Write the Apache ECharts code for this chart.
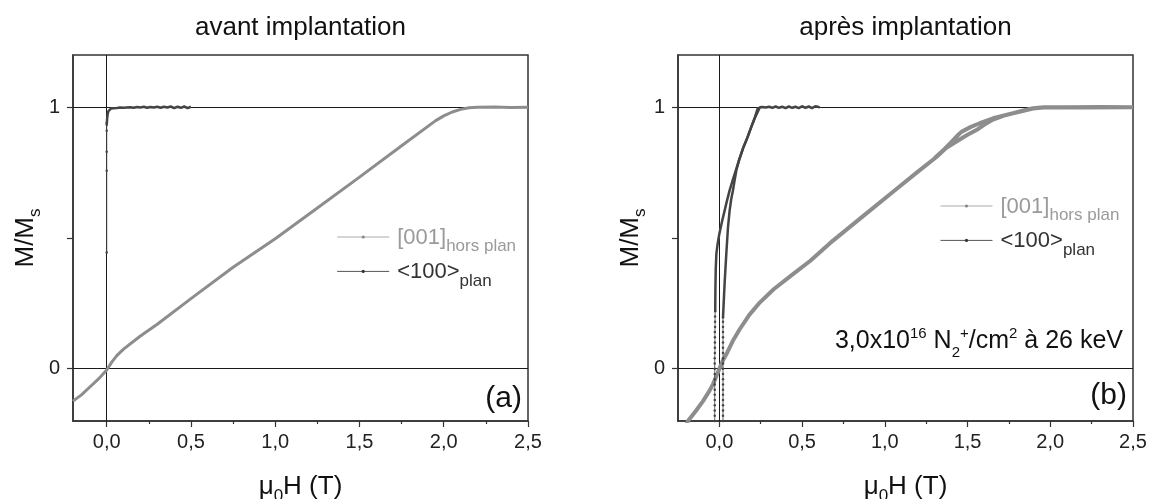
<!DOCTYPE html>
<html><head><meta charset="utf-8">
<script src="https://cdn.jsdelivr.net/npm/echarts@6/dist/echarts.min.js"></script>
<style>html,body{margin:0;padding:0;background:#fff}#c{width:1150px;height:499px}</style>
</head><body><div id="c"></div>
<script>
// ---- tick positions ----
const xTicks = [0, 0.5, 1, 1.5, 2, 2.5];
const xMinorTicks = [0.25, 0.75, 1.25, 1.75, 2.25];
const yTicks = [0, 0.5, 1];
const yTickLabels = [0, 1];

// ---- (a) avant implantation ----
const leftHorsPlan = [[-0.2,-0.124],[-0.15,-0.1],[-0.1,-0.07],[-0.05,-0.04],[0,-0.005],[0.03,0.025],[0.06,0.05],[0.1,0.075],[0.2,0.125],[0.3,0.17],[0.5,0.268],[0.75,0.388],[1.0,0.497],[1.25,0.615],[1.5,0.733],[1.75,0.853],[1.95,0.948],[2.0,0.967],[2.05,0.982],[2.1,0.992],[2.15,0.998],[2.2,1.0],[2.3,1.001],[2.4,0.999],[2.5,1.0]];
const leftPlan = [[0.5,1.002],[0.48,0.997],[0.46,1.003],[0.44,0.998],[0.42,1.002],[0.40,0.997],[0.38,1.003],[0.36,0.999],[0.34,1.002],[0.32,0.998],[0.30,1.002],[0.28,0.999],[0.26,1.001],[0.24,0.998],[0.22,1.002],[0.20,0.999],[0.18,1.001],[0.16,0.998],[0.14,1.0],[0.12,0.999],[0.10,0.998],[0.08,0.999],[0.06,0.997],[0.04,0.996],[0.025,0.995],[0.015,0.992],[0.01,0.985],[0.006,0.975],[0.003,0.96],[0.001,0.94],[0,0.93]];
const leftPlanDots = [[0,0.94],[0,0.91],[0,0.83],[0,0.757],[0,0.445]];

// ---- (b) après implantation ----
const rightHorsPlan = [[-0.22,-0.24],[-0.19,-0.2],[-0.14,-0.16],[-0.099,-0.124],[-0.06,-0.085],[-0.039,-0.06],[-0.02,-0.032],[0.0,0.0],[0.02,0.03],[0.042,0.055],[0.08,0.105],[0.123,0.151],[0.18,0.205],[0.244,0.253],[0.33,0.305],[0.445,0.362],[0.55,0.413],[0.687,0.49],[0.85,0.574],[1.05,0.677],[1.2,0.754],[1.312,0.81],[1.372,0.845],[1.45,0.876],[1.5,0.895],[1.554,0.913],[1.6,0.933],[1.654,0.953],[1.72,0.968],[1.775,0.977],[1.85,0.99],[1.896,0.996],[1.96,1.0],[2.1,1.0],[2.3,1.001],[2.5,1.0],[2.2,0.999],[1.96,0.999],[1.896,0.995],[1.775,0.977],[1.654,0.958],[1.574,0.939],[1.52,0.925],[1.463,0.906],[1.443,0.894],[1.40,0.866],[1.36,0.84],[1.3,0.805]];
const rightPlanDown = [[0.606,1.0],[0.58,1.004],[0.56,0.997],[0.54,1.003],[0.52,0.998],[0.5,1.004],[0.48,0.997],[0.46,1.002],[0.44,0.998],[0.42,1.003],[0.40,0.997],[0.38,1.002],[0.36,0.998],[0.34,1.003],[0.32,0.998],[0.30,1.002],[0.28,0.999],[0.26,1.001],[0.245,1.0],[0.234,0.998],[0.215,0.96],[0.193,0.925],[0.17,0.885],[0.143,0.843],[0.12,0.8],[0.1,0.76],[0.08,0.72],[0.062,0.682],[0.045,0.64],[0.03,0.6],[0.015,0.56],[0.0,0.516],[-0.01,0.48],[-0.018,0.44],[-0.022,0.38],[-0.024,0.3],[-0.025,0.22]];
const rightPlanDownDots = [[-0.025,0.22],[-0.026,0.2],[-0.026,0.18],[-0.026,0.16],[-0.027,0.14],[-0.027,0.12],[-0.027,0.1],[-0.027,0.08],[-0.027,0.06],[-0.028,0.04],[-0.028,0.02],[-0.028,0.0],[-0.028,-0.02],[-0.028,-0.04],[-0.028,-0.06],[-0.028,-0.08],[-0.028,-0.1],[-0.028,-0.12],[-0.028,-0.14],[-0.028,-0.16],[-0.028,-0.18],[-0.028,-0.2],[-0.028,-0.22]];
const rightPlanUpDots = [[0.022,-0.22],[0.022,-0.2],[0.022,-0.18],[0.022,-0.16],[0.022,-0.14],[0.022,-0.12],[0.022,-0.1],[0.022,-0.08],[0.022,-0.06],[0.022,-0.04],[0.022,-0.02],[0.022,0.0],[0.022,0.02],[0.022,0.04],[0.022,0.06],[0.022,0.08],[0.022,0.1],[0.022,0.12],[0.022,0.14],[0.022,0.16],[0.022,0.18],[0.022,0.196]];
const rightPlanUp = [[0.022,0.196],[0.032,0.33],[0.042,0.44],[0.052,0.54],[0.062,0.605],[0.072,0.65],[0.082,0.682],[0.092,0.72],[0.103,0.76],[0.12,0.8],[0.143,0.843],[0.17,0.885],[0.193,0.925],[0.215,0.962],[0.234,1.0]];

const FONT = '"Liberation Sans", Arial, sans-serif';
const GRAY = '#8d8d8d';
const DARK = '#444444';
const AXC = '#333333';

function mainX(grid, min) {
  return {
    type: 'value', gridIndex: grid, min: min, max: 2.5, position: 'bottom',
    axisLine: { show: true, onZero: false, lineStyle: { color: AXC, width: 1.5 } },
    axisTick: { show: true, inside: false, length: 6, customValues: xTicks, lineStyle: { color: AXC, width: 1.2 } },
    axisLabel: { customValues: xTicks, formatter: v => v.toFixed(1).replace('.', ','), fontSize: 20, color: '#222', margin: 11, fontFamily: FONT },
    splitLine: { show: false },
    name: '{m|μ}{s|0}{m|H (T)}', nameLocation: 'middle', nameGap: 53,
    nameTextStyle: { color: '#111', fontFamily: FONT, rich: {
      m: { fontSize: 26, lineHeight: 26, verticalAlign: 'top', color: '#111', fontFamily: FONT },
      s: { fontSize: 17, lineHeight: 17, verticalAlign: 'top', padding: [14, 0, 0, 0], color: '#111', fontFamily: FONT } } }
  };
}
function minorX(grid, min) {
  return {
    type: 'value', gridIndex: grid, min: min, max: 2.5, position: 'bottom',
    axisLine: { show: false, onZero: false },
    axisTick: { show: true, inside: false, length: 3, customValues: xMinorTicks, lineStyle: { color: AXC, width: 1.2 } },
    axisLabel: { show: false }, splitLine: { show: false }
  };
}
function mainY(grid) {
  return {
    type: 'value', gridIndex: grid, min: -0.2, max: 1.2,
    axisLine: { show: true, onZero: false, lineStyle: { color: AXC, width: 1.5 } },
    axisTick: { show: true, inside: false, length: 6, customValues: yTicks, lineStyle: { color: AXC, width: 1.2 } },
    axisLabel: { customValues: yTickLabels, formatter: v => String(v), fontSize: 20, color: '#222', margin: 13, fontFamily: FONT },
    splitLine: { show: false },
    name: '{m|M/M}{s|s}', nameLocation: 'middle', nameGap: 34,
    nameTextStyle: { color: '#111', fontFamily: FONT, rich: {
      m: { fontSize: 26, lineHeight: 26, verticalAlign: 'top', color: '#111', fontFamily: FONT },
      s: { fontSize: 17, lineHeight: 17, verticalAlign: 'top', padding: [14, 0, 0, 0], color: '#111', fontFamily: FONT } } }
  };
}
const refLines = {
  silent: true, z: 1, symbol: ['none', 'none'], label: { show: false }, animation: false,
  lineStyle: { type: 'solid', color: '#1a1a1a', width: 1 },
  emphasis: { disabled: true },
  data: [{ yAxis: 0 }, { yAxis: 1 }, { xAxis: 0 }]
};
function legendCfg(left, top) {
  return {
    orient: 'vertical', left: left, top: top, padding: 0, itemGap: 5.4,
    itemWidth: 52, itemHeight: 4, selectedMode: false,
    lineStyle: { width: 1 },
    data: [{ name: '[001] hors plan', lineStyle: { color: '#aaaaaa', width: 1 }, itemStyle: { color: '#888' } },
           { name: '<100> plan', lineStyle: { color: '#555555', width: 1 }, itemStyle: { color: '#333' } }],
    formatter: n => n.charAt(0) === '[' ? '{a|[001]}{b|hors plan}' : '{c|<100>}{d|plan}',
    textStyle: { fontFamily: FONT, rich: {
      a: { fontSize: 22, lineHeight: 22, verticalAlign: 'top', padding: [0.5, 0, 0, 3], color: '#9a9a9a', fontFamily: FONT },
      b: { fontSize: 17, lineHeight: 17, verticalAlign: 'top', padding: [12, 0, 0, 0], color: '#9a9a9a', fontFamily: FONT },
      c: { fontSize: 22, lineHeight: 22, verticalAlign: 'top', padding: [0.5, 0, 0, 3], color: '#333', fontFamily: FONT },
      d: { fontSize: 17, lineHeight: 17, verticalAlign: 'top', padding: [12, 0, 0, 0], color: '#333', fontFamily: FONT } } }
  };
}
function lineSeries(name, xi, yi, data, color, width, showSym, symSize, extra) {
  return Object.assign({
    name: name, type: 'line', xAxisIndex: xi, yAxisIndex: yi, data: data,
    symbol: 'circle', symbolSize: symSize, showSymbol: showSym, clip: true,
    lineStyle: { color: color, width: width }, itemStyle: { color: color },
    emphasis: { disabled: true }, animation: false, z: 3
  }, extra || {});
}

const option = {
  backgroundColor: '#ffffff',
  animation: false,
  grid: [
    { left: 73, top: 55, width: 455, height: 366, show: true, borderColor: AXC, borderWidth: 1.5, backgroundColor: 'transparent', containLabel: false, outerBoundsMode: 'none' },
    { left: 678, top: 55, width: 455, height: 366, show: true, borderColor: AXC, borderWidth: 1.5, backgroundColor: 'transparent', containLabel: false, outerBoundsMode: 'none' }
  ],
  xAxis: [mainX(0, -0.2), minorX(0, -0.2), mainX(1, -0.25), minorX(1, -0.25)],
  yAxis: [mainY(0), mainY(1)],
  legend: [legendCfg(336.7, 226), legendCfg(940, 195)],
  series: [
    lineSeries('[001] hors plan', 0, 0, leftHorsPlan, GRAY, 3, false, 2, { markLine: refLines }),
    lineSeries('<100> plan', 0, 0, leftPlan, DARK, 2.5, false, 2),
    lineSeries('<100> plan', 0, 0, leftPlanDots, DARK, 1, true, 2.5),
    lineSeries('[001] hors plan', 2, 1, rightHorsPlan, GRAY, 4, false, 2, { markLine: refLines }),
    lineSeries('<100> plan', 2, 1, rightPlanDown, DARK, 2.5, false, 2),
    lineSeries('<100> plan', 2, 1, rightPlanDownDots, DARK, 0.8, true, 2.5),
    lineSeries('<100> plan', 2, 1, rightPlanUpDots, DARK, 0.8, true, 2.5),
    lineSeries('<100> plan', 2, 1, rightPlanUp, DARK, 2.5, false, 2)
  ],
  graphic: [
    { type: 'text', x: 300.5, y: 28, style: { text: 'avant implantation', fontSize: 26, fontFamily: FONT, fill: '#111', align: 'center', verticalAlign: 'middle' } },
    { type: 'text', x: 905.5, y: 28, style: { text: 'après implantation', fontSize: 26, fontFamily: FONT, fill: '#111', align: 'center', verticalAlign: 'middle' } },
    { type: 'text', x: 522, y: 399, style: { text: '(a)', fontSize: 30, fontFamily: FONT, fill: '#111', align: 'right', verticalAlign: 'middle' } },
    { type: 'text', x: 1127, y: 396, style: { text: '(b)', fontSize: 30, fontFamily: FONT, fill: '#111', align: 'right', verticalAlign: 'middle' } },
    { type: 'text', x: 1123, y: 341, style: {
        text: '{m|3,0x10}{sup|16}{m| N}{sub|2}{sup|+}{m|/cm}{sup|2}{m| à 26 keV}',
        align: 'right', verticalAlign: 'middle', fill: '#111', fontFamily: FONT,
        rich: {
          m: { fontSize: 25, lineHeight: 40, verticalAlign: 'middle', fill: '#111', fontFamily: FONT },
          sup: { fontSize: 15, lineHeight: 15, verticalAlign: 'top', padding: [5, 0, 0, 0], fill: '#111', fontFamily: FONT },
          sub: { fontSize: 15, lineHeight: 15, verticalAlign: 'bottom', padding: [0, 0, 1, 0], fill: '#111', fontFamily: FONT }
        } } }
  ]
};
const chart = echarts.init(document.getElementById('c'), null, { renderer: 'canvas' });
chart.setOption(option);
</script>
</body></html>
